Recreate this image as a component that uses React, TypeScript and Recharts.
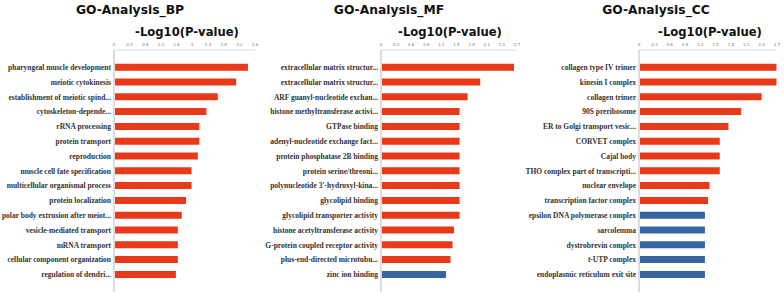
import React from "react"
import { BarChart, Bar, XAxis, YAxis, Cell } from "recharts"

// -log10(p); below 1.301 (p >= 0.05) is drawn blue
const bpNames = [
  "pharyngeal muscle development",
  "meiotic cytokinesis",
  "establishment of meiotic spind...",
  "cytoskeleton-depende...",
  "rRNA processing",
  "protein transport",
  "reproduction",
  "muscle cell fate specification",
  "multicellular organismal process",
  "protein localization",
  "polar body extrusion after meiot...",
  "vesicle-mediated transport",
  "mRNA transport",
  "cellular component organization",
  "regulation of dendri...",
]
const bpValues = [3.42, 3.12, 2.65, 2.36, 2.18, 2.18, 2.14, 1.98, 1.98, 1.84, 1.73, 1.63, 1.63, 1.63, 1.58]
const bpTicks = [0, 0.4, 0.8, 1.2, 1.6, 2, 2.4, 2.8, 3.2, 3.6]

const mfNames = [
  "extracellular matrix structur...",
  "extracellular matrix structur...",
  "ARF guanyl-nucleotide exchan...",
  "histone methyltransferase activi...",
  "GTPase binding",
  "adenyl-nucleotide exchange fact...",
  "protein phosphatase 2B binding",
  "protein serine/threoni...",
  "polynucleotide 3'-hydroxyl-kina...",
  "glycolipid binding",
  "glycolipid transporter activity",
  "histone acetyltransferase activity",
  "G-protein coupled receptor activity",
  "plus-end-directed microtubu...",
  "zinc ion binding",
]
const mfValues = [2.64, 1.97, 1.72, 1.56, 1.56, 1.56, 1.56, 1.56, 1.56, 1.56, 1.56, 1.45, 1.42, 1.38, 1.29]
const mfTicks = [0, 0.3, 0.6, 0.9, 1.2, 1.5, 1.8, 2.1, 2.4, 2.7]

const ccNames = [
  "collagen type IV trimer",
  "kinesin I complex",
  "collagen trimer",
  "90S preribosome",
  "ER to Golgi transport vesic...",
  "CORVET complex",
  "Cajal body",
  "THO complex part of transcripti...",
  "nuclear envelope",
  "transcription factor complex",
  "epsilon DNA polymerase complex",
  "sarcolemma",
  "dystrobrevin complex",
  "t-UTP complex",
  "endoplasmic reticulum exit site",
]
const ccValues = [2.69, 2.69, 2.4, 2.0, 1.75, 1.58, 1.58, 1.58, 1.38, 1.35, 1.29, 1.29, 1.29, 1.29, 1.29]
const ccTicks = [0, 0.3, 0.6, 0.9, 1.2, 1.5, 1.8, 2.1, 2.4, 2.7]

const RED = "#e8391b"
const BLUE = "#3765a0"
const CUTOFF = 1.301

function makeLabelTick(names: string[]) {
  return function LabelTick(props: any) {
    const { x, y, payload } = props
    return (
      <text
        x={x}
        y={y}
        dy={2.6}
        textAnchor="end"
        fontFamily="'Liberation Serif', serif"
        fontWeight="bold"
        fontSize={7.5}
        fill="#333"
      >
        {names[payload.value]}
      </text>
    )
  }
}

interface PanelProps {
  left: number
  names: string[]
  values: number[]
  ticks: number[]
  labelWidth: number
}

function Panel({ left, names, values, ticks, labelWidth }: PanelProps) {
  const data = names.map((name, i) => ({ key: i, name, value: values[i] }))
  const LabelTick = makeLabelTick(names)
  return (
    <div style={{ position: "absolute", left, top: 0 }}>
      <BarChart
        width={262}
        height={294}
        data={data}
        layout="vertical"
        margin={{ top: 38, right: 7, bottom: 2, left: 0 }}
        barCategoryGap="25%"
      >
        <XAxis
          type="number"
          orientation="top"
          domain={[0, ticks[ticks.length - 1]]}
          ticks={ticks}
          height={12}
          tickLine={false}
          tickSize={2}
          tickMargin={2}
          axisLine={{ stroke: "#ddd" }}
          tick={{ fontSize: 4, fill: "#777", fontFamily: "'DejaVu Sans', sans-serif" }}
          interval={0}
        />
        <YAxis
          type="category"
          dataKey="key"
          width={labelWidth}
          padding={{ top: 10, bottom: 10 }}
          tickLine={false}
          tickSize={0}
          tickMargin={3}
          axisLine={{ stroke: "#ddd", strokeWidth: 2 }}
          tick={LabelTick}
          interval={0}
        />
        <Bar dataKey="value" isAnimationActive={false}>
          {data.map((d) => (
            <Cell key={d.key} fill={d.value < CUTOFF ? BLUE : RED} />
          ))}
        </Bar>
      </BarChart>
    </div>
  )
}

const titles = [
  { title: "GO-Analysis_BP", tx: 130, sx: 187 },
  { title: "GO-Analysis_MF", tx: 389, sx: 450 },
  { title: "GO-Analysis_CC", tx: 656, sx: 710 },
]

export default function App() {
  return (
    <div style={{ position: "absolute", left: 0, top: 0, width: 784, height: 294, background: "#fff" }}>
      <Panel left={0} names={bpNames} values={bpValues} ticks={bpTicks} labelWidth={114} />
      <Panel left={262} names={mfNames} values={mfValues} ticks={mfTicks} labelWidth={119} />
      <Panel left={522} names={ccNames} values={ccValues} ticks={ccTicks} labelWidth={117} />
      <svg width={784} height={40} style={{ position: "absolute", left: 0, top: 0 }}>
        {titles.map((t) => (
          <g key={t.title} fontFamily="'DejaVu Sans', sans-serif" fontWeight="bold" fill="#111" textAnchor="middle">
            <text x={t.tx} y={14} fontSize={12.3}>
              {t.title}
            </text>
            <text x={t.sx} y={35.5} fontSize={11.6}>
              -Log10(P-value)
            </text>
          </g>
        ))}
      </svg>
    </div>
  )
}
